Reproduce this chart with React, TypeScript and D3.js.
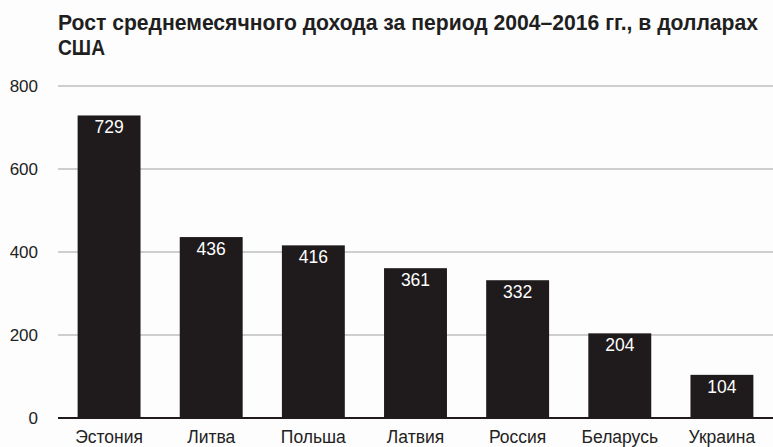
import React, { useEffect, useRef } from 'react';
import * as d3 from 'd3';

const width = 773;
const height = 447;

const titleLines = ['Рост среднемесячного дохода за период 2004–2016 гг., в долларах', 'США'];
const countries = ['Эстония', 'Литва', 'Польша', 'Латвия', 'Россия', 'Беларусь', 'Украина'];
const incomeGrowth = [729, 436, 416, 361, 332, 204, 104];
const yTicks = [0, 200, 400, 600, 800];

const fontFamily = '"Liberation Sans", Arial, sans-serif';

const BarChart = () => {
  const svgRef = useRef<SVGSVGElement>(null);

  const renderSvg = () => {
    const svg = d3.select(svgRef.current);
    svg.selectAll('*').remove();

    const left = 58;
    const right = 773;
    const top = 86;
    const bottom = 418;

    const xScale = d3
      .scaleBand<string>()
      .domain(countries)
      .range([left, right])
      .paddingInner(0.384)
      .paddingOuter(0.192);
    const yScale = d3.scaleLinear().domain([0, 800]).range([bottom, top]);

    svg.append('rect').attr('width', width).attr('height', height).attr('fill', '#fdfdfd');

    // title, condensed bold
    svg
      .append('text')
      .attr('x', 58)
      .attr('y', 30)
      .attr('font-family', fontFamily)
      .attr('font-weight', 'bold')
      .attr('font-size', 21.5)
      .attr('fill', '#1f1f1f')
      .attr('textLength', 700)
      .attr('lengthAdjust', 'spacingAndGlyphs')
      .text(titleLines[0]);
    svg
      .append('text')
      .attr('x', 58)
      .attr('y', 55)
      .attr('font-family', fontFamily)
      .attr('font-weight', 'bold')
      .attr('font-size', 21.5)
      .attr('fill', '#1f1f1f')
      .attr('textLength', 47)
      .attr('lengthAdjust', 'spacingAndGlyphs')
      .text(titleLines[1]);

    // gridlines
    svg
      .append('g')
      .selectAll('line')
      .data(yTicks.filter((t) => t > 0))
      .enter()
      .append('line')
      .attr('x1', left)
      .attr('x2', right)
      .attr('y1', (d) => yScale(d))
      .attr('y2', (d) => yScale(d))
      .attr('stroke', '#a0a0a0')
      .attr('stroke-width', 1.2);

    // y tick labels
    svg
      .append('g')
      .selectAll('text')
      .data(yTicks)
      .enter()
      .append('text')
      .attr('x', 38)
      .attr('y', (d) => yScale(d) + 6)
      .attr('text-anchor', 'end')
      .attr('font-family', fontFamily)
      .attr('font-size', 17)
      .attr('fill', '#222')
      .text((d) => d);

    // bars
    svg
      .append('g')
      .selectAll('rect')
      .data(incomeGrowth)
      .enter()
      .append('rect')
      .attr('x', (d, i) => xScale(countries[i]))
      .attr('y', (d) => yScale(d))
      .attr('width', xScale.bandwidth())
      .attr('height', (d) => yScale(0) - yScale(d))
      .attr('fill', '#1f1b1c');

    // value labels
    svg
      .append('g')
      .selectAll('text')
      .data(incomeGrowth)
      .enter()
      .append('text')
      .attr('x', (d, i) => xScale(countries[i]) + xScale.bandwidth() / 2)
      .attr('y', (d) => yScale(d) + 18)
      .attr('text-anchor', 'middle')
      .attr('font-family', fontFamily)
      .attr('font-size', 17.5)
      .attr('fill', '#ffffff')
      .text((d) => d);

    // baseline
    svg
      .append('line')
      .attr('x1', left)
      .attr('x2', right)
      .attr('y1', yScale(0))
      .attr('y2', yScale(0))
      .attr('stroke', '#1f1b1c')
      .attr('stroke-width', 2);

    // category labels
    svg
      .append('g')
      .selectAll('text')
      .data(countries)
      .enter()
      .append('text')
      .attr('x', (d) => xScale(d) + xScale.bandwidth() / 2)
      .attr('y', 443)
      .attr('text-anchor', 'middle')
      .attr('font-family', fontFamily)
      .attr('font-size', 17.5)
      .attr('fill', '#222')
      .text((d) => d);
  };

  useEffect(() => {
    renderSvg();
  }, []);

  return (
    <svg
      ref={svgRef}
      width={width}
      height={height}
      style={{ position: 'absolute', left: 0, top: 0, display: 'block' }}
    />
  );
};

export default function App() {
  return <BarChart />;
}
